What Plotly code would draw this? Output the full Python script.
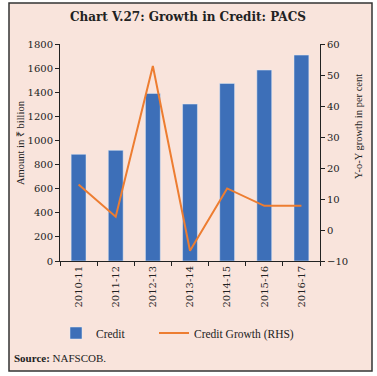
import plotly.graph_objects as go

years = ["2010-11", "2011-12", "2012-13", "2013-14", "2014-15", "2015-16", "2016-17"]
credit = [885, 918, 1390, 1302, 1473, 1584, 1708]
growth = [14.7, 4.3, 52.9, -6.7, 13.4, 7.8, 7.8]

FONT = "Liberation Serif"
TICKFONT = dict(family="DejaVu Serif", size=10, color="#222")
BLUE = "#3D6FB8"
ORANGE = "#ED7D31"
BG = "#F9E4DC"

fig = go.Figure()
fig.add_trace(go.Bar(x=years, y=credit, name="Credit", marker_color=BLUE, yaxis="y",
                     legend="legend"))
fig.add_trace(go.Scatter(x=years, y=growth, name="Credit Growth (RHS)", mode="lines",
                         line=dict(color=ORANGE, width=2), yaxis="y2", legend="legend2"))

L, R, T, B = 60, 57, 44, 115
W, H = 377, 376
pw, ph = W - L - R, H - T - B

def px(x):
    return (x - L) / pw

def py(y):
    return (H - B - y) / ph

leg_common = dict(orientation="h", yanchor="middle", xanchor="left",
                  bgcolor="rgba(0,0,0,0)", font=dict(size=11.5), itemwidth=30)

fig.update_layout(
    width=W, height=H, autosize=False,
    margin=dict(l=L, r=R, t=T, b=B, autoexpand=False),
    paper_bgcolor="white", plot_bgcolor="rgba(0,0,0,0)",
    font=dict(family=FONT, size=11, color="#222"),
    bargap=0.6,
    showlegend=True,
    legend=dict(x=px(56), y=py(333), **leg_common),
    legend2=dict(x=px(154), y=py(333), **leg_common),
    xaxis=dict(type="category", showline=True, linecolor="#222", linewidth=1, ticks="outside",
               ticklen=4, tickcolor="#222", tickangle=-90, tickson="boundaries", showgrid=False,
               zeroline=False, tickfont=TICKFONT),
    yaxis=dict(range=[0, 1800], dtick=200, showline=True, linecolor="#222", linewidth=1,
               ticks="outside", ticklen=4, tickcolor="#222", showgrid=False, zeroline=False,
               tickfont=TICKFONT),
    yaxis2=dict(range=[-10, 60], dtick=10, overlaying="y", side="right", showline=True,
                linecolor="#222", linewidth=1, ticks="outside", ticklen=4, tickcolor="#222",
                showgrid=False, zeroline=False, tickfont=TICKFONT),
    shapes=[dict(type="rect", xref="paper", yref="paper", layer="below",
                 x0=px(9), x1=px(372), y0=py(371), y1=py(3),
                 fillcolor=BG, line=dict(color="#333", width=1.5))],
    annotations=[
        dict(text="<b>Chart V.27: Growth in Credit: PACS</b>", xref="paper", yref="paper",
             x=px(188), y=py(17), showarrow=False,
             font=dict(family="DejaVu Serif", size=12, color="#222"),
             xanchor="center", yanchor="middle"),
        dict(text="Amount in ₹ billion", xref="paper", yref="paper", x=px(20), y=py(143),
             textangle=-90, showarrow=False, font=dict(size=10.5), xanchor="center",
             yanchor="middle"),
        dict(text="Y-o-Y growth in per cent", xref="paper", yref="paper", x=px(358), y=py(127),
             textangle=-90, showarrow=False, font=dict(size=10.5), xanchor="center",
             yanchor="middle"),
        dict(text="<b>Source:</b> NAFSCOB.", xref="paper", yref="paper", x=px(12), y=py(358),
             showarrow=False, font=dict(size=11), xanchor="left", yanchor="middle"),
    ],
)

fig.write_html("out.html", config={"displayModeBar": False},
               post_script="document.body.style.margin='0';")
